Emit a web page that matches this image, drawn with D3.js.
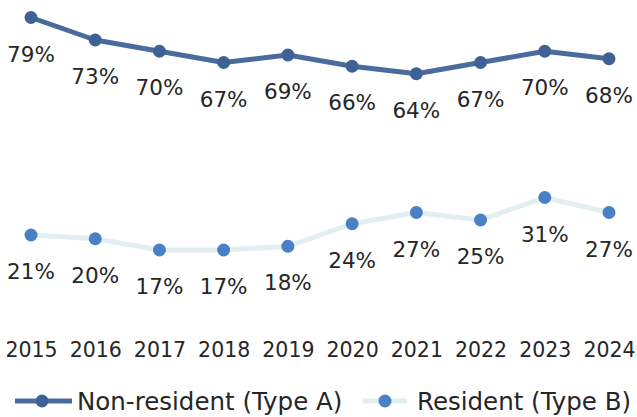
<!DOCTYPE html>
<html>
<head>
<meta charset="utf-8">
<script src="https://cdn.jsdelivr.net/npm/d3@7"></script>
<style>
  html, body { margin: 0; padding: 0; background: #fff; }
  svg text { font-family: "DejaVu Sans", sans-serif; fill: #262626; }
</style>
</head>
<body>
<svg id="chart" width="637" height="417"></svg>
<script>
const years = ["2015", "2016", "2017", "2018", "2019", "2020", "2021", "2022", "2023", "2024"];
const nonResident = [79, 73, 70, 67, 69, 66, 64, 67, 70, 68];
const resident = [21, 20, 17, 17, 18, 24, 27, 25, 31, 27];
const seriesNames = ["Non-resident (Type A)", "Resident (Type B)"];

const width = 637;
const height = 417;

const svg = d3.select("#chart");

const x = d3.scalePoint()
    .domain(years)
    .range([31, 609]);

const y = d3.scaleLinear()
    .domain([20, 80])
    .range([238.75, 13.75]);

const line = d3.line()
    .x((d, i) => x(years[i]))
    .y(d => y(d));

const series = [
    { name: seriesNames[0], values: nonResident, line: "#4a6c9c", dot: "#3e6196" },
    { name: seriesNames[1], values: resident, line: "#e2eff1", dot: "#4a80c6" }
];

series.forEach(s => {
    const g = svg.append("g");

    g.append("path")
        .datum(s.values)
        .attr("d", line)
        .attr("fill", "none")
        .attr("stroke", s.line)
        .attr("stroke-width", 5)
        .attr("stroke-linejoin", "round");

    g.selectAll("circle")
        .data(s.values)
        .enter()
        .append("circle")
        .attr("cx", (d, i) => x(years[i]))
        .attr("cy", d => y(d))
        .attr("r", 6.5)
        .attr("fill", s.dot);

    g.selectAll("text")
        .data(s.values)
        .enter()
        .append("text")
        .attr("x", (d, i) => x(years[i]))
        .attr("y", d => y(d) + 44)
        .attr("text-anchor", "middle")
        .attr("font-size", 21.5)
        .text(d => d + "%");
});

// os x bez linije, samo godine
const xAxis = svg.append("g")
    .attr("transform", "translate(0,357)")
    .call(d3.axisBottom(x).tickSize(0).tickPadding(0));
xAxis.select(".domain").remove();
xAxis.selectAll("text")
    .attr("dy", 0)
    .attr("font-size", 20.5)
    .style("font-family", "'DejaVu Sans', sans-serif")
    .attr("fill", "#262626");

// legenda
const legendItems = [
    { s: series[0], x0: 15, x1: 72, cx: 42, tx: 77 },
    { s: series[1], x0: 363, x1: 407, cx: 385, tx: 417 }
];

const legend = svg.append("g");
legendItems.forEach(it => {
    legend.append("line")
        .attr("x1", it.x0).attr("x2", it.x1)
        .attr("y1", 401).attr("y2", 401)
        .attr("stroke", it.s.line)
        .attr("stroke-width", 5);
    legend.append("circle")
        .attr("cx", it.cx).attr("cy", 401)
        .attr("r", 6.5)
        .attr("fill", it.s.dot);
    legend.append("text")
        .attr("x", it.tx).attr("y", 410)
        .attr("font-size", 24.5)
        .text(it.s.name);
});
</script>
</body>
</html>
